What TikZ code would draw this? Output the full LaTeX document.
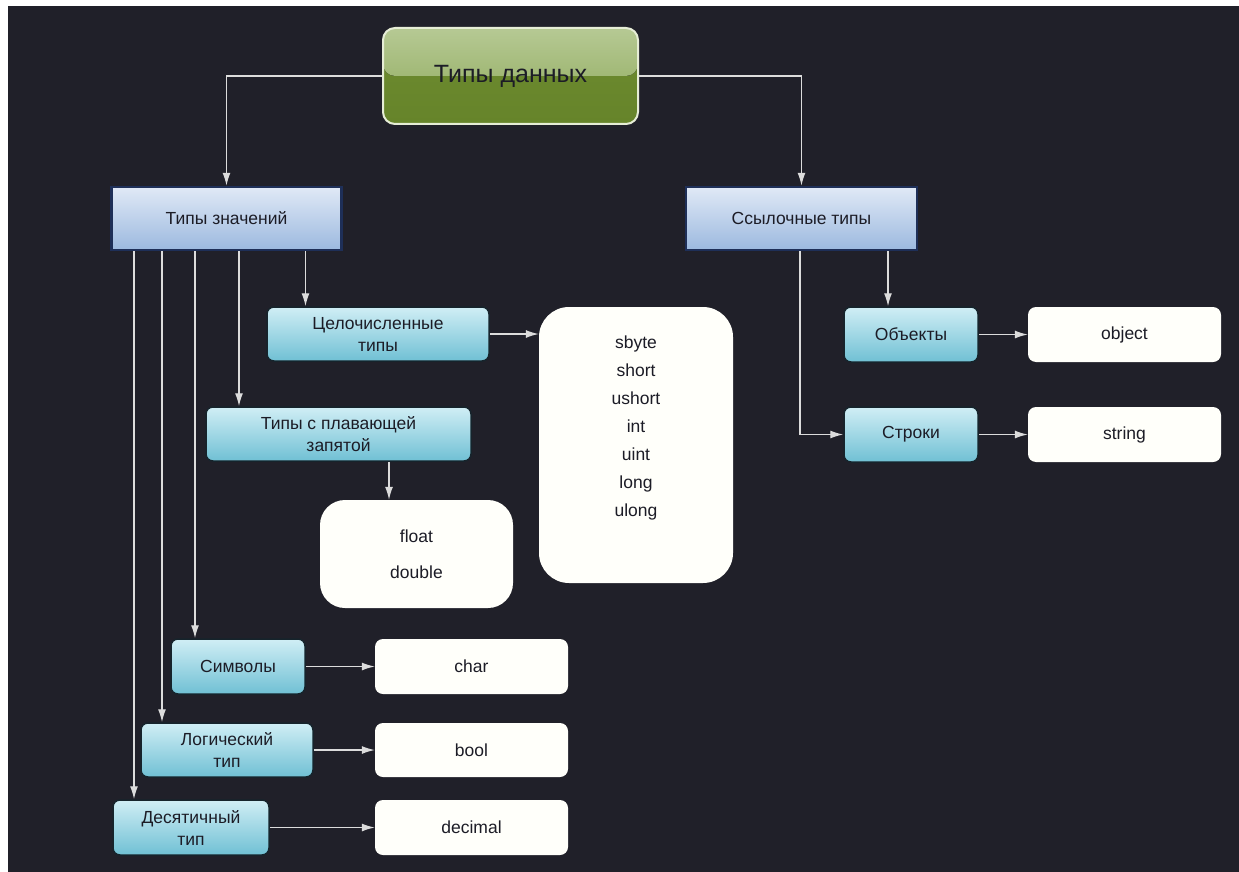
\documentclass[tikz,border=0pt]{standalone}
\usepackage{fontspec}
\setmainfont{Liberation Sans}
\usetikzlibrary{arrows.meta}
\definecolor{bgdark}{HTML}{202029}
\definecolor{linegray}{HTML}{DCDCDC}
\definecolor{txt}{HTML}{1C1C26}
\definecolor{gtopA}{HTML}{B6C994}
\definecolor{gtopB}{HTML}{8CA858}
\definecolor{gbotA}{HTML}{6E8C30}
\definecolor{gbotB}{HTML}{66842A}
\definecolor{gedge}{HTML}{E6EDD6}
\definecolor{btop}{HTML}{E0E9F6}
\definecolor{bbot}{HTML}{9CB9DF}
\definecolor{bedge}{HTML}{1E2F58}
\definecolor{ttop}{HTML}{D0EEF5}
\definecolor{tmid}{HTML}{A2D9E7}
\definecolor{tbot}{HTML}{70C0D4}
\definecolor{tedge}{HTML}{16242C}
\definecolor{vwhite}{HTML}{FFFFFA}
\begin{document}
\begin{tikzpicture}[x=1pt,y=-1pt,
  conn/.style={draw=linegray, line width=1.3pt, -{Latex[length=13pt,width=8pt]}},
  rootbox/.style={draw=gedge, line width=2pt, rounded corners=12pt,
    top color=gbotA, bottom color=gbotB, text=txt,
    font=\fontsize{25}{30}\selectfont, inner sep=0pt,
    path picture={\fill[top color=gtopA, bottom color=gtopB]
      (path picture bounding box.north west) rectangle (path picture bounding box.east);}},
  catbox/.style={draw=bedge, line width=2.5pt, top color=btop, bottom color=bbot,
    text=txt, font=\fontsize{17.5}{21}\selectfont, inner sep=0pt},
  kindbox/.style={draw=tedge, line width=1.5pt, rounded corners=7pt,
    top color=ttop, middle color=tmid, bottom color=tbot, text=txt,
    font=\fontsize{17.5}{22}\selectfont, align=center, inner sep=0pt},
  valbox/.style={fill=vwhite, rounded corners=8pt, text=txt,
    font=\fontsize{17.5}{22}\selectfont, align=center, inner sep=0pt}
]
\useasboundingbox (0,0) rectangle (1239,872);
\fill[white] (0,0) rectangle (1239,872);
\fill[bgdark] (8,6) rectangle (1250,880);

% nodes
\node[rootbox, minimum width=255pt, minimum height=96pt] (root) at (510.5,76) {Типы данных};
\node[catbox, minimum width=230pt, minimum height=63pt] (tz) at (226.5,218.5) {Типы значений};
\node[catbox, minimum width=231pt, minimum height=63pt] (st) at (801.5,218.5) {Ссылочные типы};

\node[kindbox, minimum width=222pt, minimum height=54pt] (cel) at (378,334) {Целочисленные\\типы};
\node[kindbox, minimum width=265pt, minimum height=54pt] (flt) at (338.5,434) {Типы с плавающей\\запятой};
\node[kindbox, minimum width=134pt, minimum height=55pt] (sym) at (238,666.5) {Символы};
\node[kindbox, minimum width=172pt, minimum height=54pt] (log) at (227,750) {Логический\\тип};
\node[kindbox, minimum width=156pt, minimum height=55pt] (dec) at (191,827.5) {Десятичный\\тип};
\node[kindbox, minimum width=134pt, minimum height=55pt] (obj) at (911,334.5) {Объекты};
\node[kindbox, minimum width=134pt, minimum height=55pt] (str) at (911,434.5) {Строки};

\node[valbox, rounded corners=30pt, minimum width=194pt, minimum height=276pt,
  font=\fontsize{17.5}{28}\selectfont] (ints) at (636,445)
  {sbyte\\short\\ushort\\int\\uint\\long\\ulong\\[9pt]\mbox{}};
\node[valbox, rounded corners=25pt, minimum width=193pt, minimum height=108pt] (floats) at (416.5,554)
  {float\\[14pt]double};
\node[valbox, minimum width=193pt, minimum height=55pt] (char) at (471.5,666.5) {char};
\node[valbox, minimum width=193pt, minimum height=54pt] (bool) at (471.5,750) {bool};
\node[valbox, minimum width=193pt, minimum height=55pt] (decimal) at (471.5,827.5) {decimal};
\node[valbox, minimum width=193pt, minimum height=55pt] (object) at (1124.5,334.5) {object};
\node[valbox, minimum width=193pt, minimum height=55pt] (string) at (1124.5,434.5) {string};

% connectors
\draw[conn] (root.west) -| (tz.north);
\draw[conn] (root.east) -| (st.north);

\draw[conn] ([xshift=86.5pt]st.south) -- ([xshift=-23pt]obj.north);
\draw[conn] ([xshift=-1.5pt]st.south) |- (str.west);
\draw[conn] (obj.east) -- (object.west);
\draw[conn] (str.east) -- (string.west);

\draw[conn] ([xshift=79pt]tz.south) -- ([xshift=79pt]tz.south |- cel.north);
\draw[conn] ([xshift=12.5pt]tz.south) -- ([xshift=12.5pt]tz.south |- flt.north);
\draw[conn] ([xshift=-31.5pt]tz.south) -- ([xshift=-31.5pt]tz.south |- sym.north);
\draw[conn] ([xshift=-64.5pt]tz.south) -- ([xshift=-64.5pt]tz.south |- log.north);
\draw[conn] ([xshift=-92.5pt]tz.south) -- ([xshift=-92.5pt]tz.south |- dec.north);

\draw[conn] (cel.east) -- (cel.east -| ints.west);
\draw[conn] ([xshift=-27.5pt]floats.north |- flt.south) -- ([xshift=-27.5pt]floats.north);
\draw[conn] (sym.east) -- (char.west);
\draw[conn] (log.east) -- (bool.west);
\draw[conn] (dec.east) -- (decimal.west);
\end{tikzpicture}
\end{document}
